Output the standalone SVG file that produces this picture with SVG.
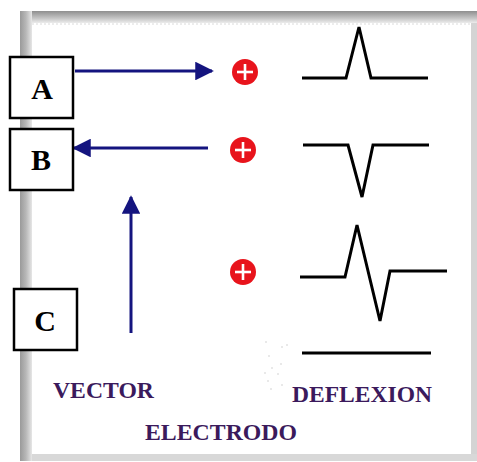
<svg xmlns="http://www.w3.org/2000/svg" width="477" height="462" viewBox="0 0 477 462">
<defs>
<linearGradient id="gl" x1="0" y1="0" x2="1" y2="0">
<stop offset="0" stop-color="#9a9a9a"/><stop offset="0.5" stop-color="#b8b8b8"/><stop offset="1" stop-color="#e6e6e6"/>
</linearGradient>
<linearGradient id="gt" x1="0" y1="0" x2="0" y2="1">
<stop offset="0" stop-color="#8e8e8e"/><stop offset="0.6" stop-color="#c4c4c4"/><stop offset="1" stop-color="#ececec"/>
</linearGradient>
<marker id="ah" viewBox="0 0 10 10" refX="9" refY="5" markerWidth="6.2" markerHeight="6.3" markerUnits="strokeWidth" orient="auto">
<path d="M0,0 L10,5 L0,10 Z" fill="#14147f"/>
</marker>
<style>
.box{fill:#fff;stroke:#000;stroke-width:2.5}
.lt{font-family:"Liberation Serif","Times New Roman",serif;font-weight:bold;font-size:30px;fill:#000;text-anchor:middle}
.lab{font-family:"Liberation Serif","Times New Roman",serif;font-weight:bold;font-size:23px;fill:#3b1a5c}
.vec{stroke:#14147f;stroke-width:3;fill:none}
.wave{stroke:#000;stroke-width:3;fill:none;stroke-linejoin:miter}
.pl{fill:#e8141c}
.cr{stroke:#fff;stroke-width:2.6}
</style>
</defs>
<rect x="0" y="0" width="477" height="462" fill="#fff"/>
<g id="frame">
<rect x="20" y="11" width="457" height="450" fill="#fff"/>
<rect x="20" y="11" width="457" height="12" fill="url(#gt)"/>
<rect x="20" y="11" width="12" height="450" fill="url(#gl)"/>
<rect x="471" y="23" width="6" height="437" fill="#d4d4d4"/>
<rect x="32" y="454" width="445" height="7" fill="#d8d8d8"/>
<line x1="32" y1="24" x2="471" y2="24" stroke="#dadada" stroke-width="1" stroke-dasharray="2,2"/>
</g>
<g id="connectors">
<line class="vec" x1="75" y1="71" x2="212" y2="71" marker-end="url(#ah)"/>
<line class="vec" x1="208" y1="148" x2="74" y2="148" marker-end="url(#ah)"/>
<line class="vec" x1="131" y1="333" x2="131" y2="197" marker-end="url(#ah)"/>
</g>
<g id="nodeA">
<rect class="box" x="10" y="57" width="63" height="61"/>
<text class="lt" x="42" y="99">A</text>
</g>
<g id="nodeB">
<rect class="box" x="10" y="129" width="63" height="61"/>
<text class="lt" x="41" y="170">B</text>
</g>
<g id="nodeC">
<rect class="box" x="14" y="289" width="63" height="61"/>
<text class="lt" x="45" y="331">C</text>
</g>
<g id="plus1"><circle class="pl" cx="245" cy="72" r="13"/><line class="cr" x1="237" y1="72" x2="253" y2="72"/><line class="cr" x1="245" y1="64" x2="245" y2="80"/></g>
<g id="plus2"><circle class="pl" cx="243" cy="150" r="13"/><line class="cr" x1="235" y1="150" x2="251" y2="150"/><line class="cr" x1="243" y1="142" x2="243" y2="158"/></g>
<g id="plus3"><circle class="pl" cx="243" cy="272" r="13"/><line class="cr" x1="235" y1="272" x2="251" y2="272"/><line class="cr" x1="243" y1="264" x2="243" y2="280"/></g>
<g id="waves">
<polyline class="wave" points="302,78 346,78 359,27 371,78 428,78"/>
<polyline class="wave" points="303,145 348,145 362,197 373,145 429,145"/>
<polyline class="wave" points="300,277 345,277 357,225 380,321 390,271 447,271"/>
<line class="wave" x1="302" y1="353" x2="431" y2="353"/>
</g>
<g id="specks" fill="#e2e2e2">
<circle cx="266" cy="342" r="1"/><circle cx="282" cy="347" r="1"/><circle cx="287" cy="345" r="1"/>
<circle cx="269" cy="356" r="1"/><circle cx="281" cy="364" r="1"/><circle cx="265" cy="373" r="1"/>
<circle cx="272" cy="368" r="1"/><circle cx="278" cy="374" r="1"/><circle cx="268" cy="381" r="1"/>
<circle cx="282" cy="385" r="1"/><circle cx="271" cy="389" r="1"/>
</g>
<g id="labels">
<text class="lab" x="53" y="398" textLength="101" lengthAdjust="spacingAndGlyphs">VECTOR</text>
<text class="lab" x="292" y="402" textLength="140" lengthAdjust="spacingAndGlyphs">DEFLEXION</text>
<text class="lab" x="145" y="440" textLength="152" lengthAdjust="spacingAndGlyphs">ELECTRODO</text>
</g>
</svg>
